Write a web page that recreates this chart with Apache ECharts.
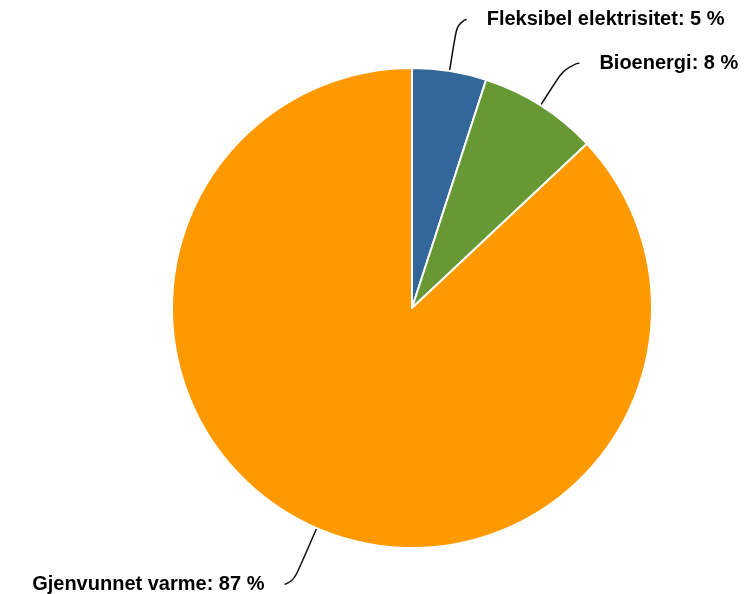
<!DOCTYPE html>
<html>
<head>
<meta charset="utf-8">
<script src="https://cdn.jsdelivr.net/npm/echarts@6/dist/echarts.min.js"></script>
<style>
html,body{margin:0;padding:0;background:#fff;}
#chart{width:755px;height:594px;}
</style>
</head>
<body>
<div id="chart"></div>
<script>
const categories = ['Fleksibel elektrisitet', 'Bioenergi', 'Gjenvunnet varme'];
const values = [5, 8, 87];

const colors = ['#336699', '#669933', '#FF9900'];
const lineLen = [52, 50, 61];
const lineLen2 = [9, 12, 8];

const chart = echarts.init(document.getElementById('chart'), null, {renderer: 'canvas'});
chart.setOption({
  backgroundColor: '#ffffff',
  animation: false,
  series: [{
    type: 'pie',
    center: [412, 308],
    radius: 240,
    startAngle: 90,
    clockwise: true,
    avoidLabelOverlap: false,
    itemStyle: { borderColor: '#ffffff', borderWidth: 2 },
    label: {
      show: true,
      position: 'outside',
      formatter: '{b}: {c} %',
      fontFamily: 'Liberation Sans, Arial, sans-serif',
      fontWeight: 'bold',
      fontSize: 20,
      color: '#000000',
      distanceToLabelLine: 20,
      bleedMargin: 2
    },
    labelLine: {
      show: true,
      smooth: 0.8,
      lineStyle: { color: '#111111', width: 1.5 }
    },
    emphasis: { disabled: true },
    data: categories.map((name, i) => ({
      name: name,
      value: values[i],
      itemStyle: { color: colors[i] },
      labelLine: { length: lineLen[i], length2: lineLen2[i] }
    }))
  }]
});
</script>
</body>
</html>
